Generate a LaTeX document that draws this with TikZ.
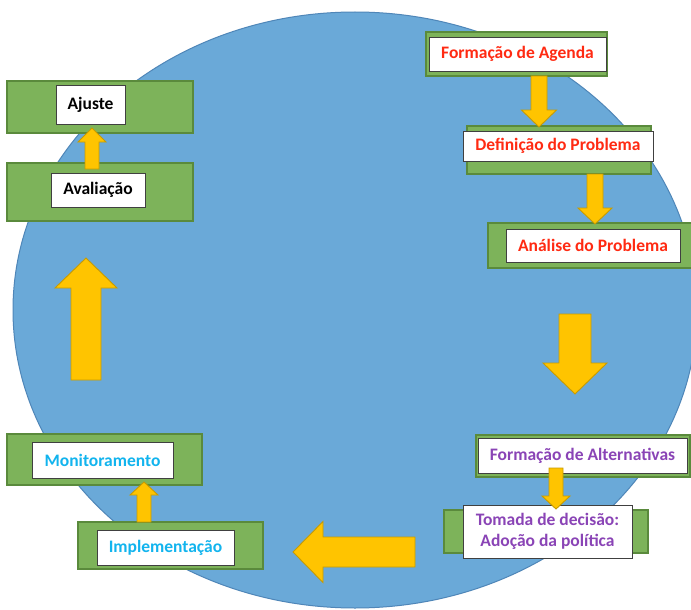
\documentclass[tikz,border=0pt]{standalone}
\usepackage{fontspec}
\setmainfont{Carlito}
\usetikzlibrary{calc}
\definecolor{ciclo}{HTML}{6AA9D8}
\definecolor{ciclob}{HTML}{4F86B8}
\definecolor{verde}{HTML}{7DB35A}
\definecolor{verdeb}{HTML}{5A8A3C}
\definecolor{amarelo}{HTML}{FFC400}
\definecolor{amarelob}{HTML}{C89B00}
\definecolor{vermelho}{HTML}{FF2A12}
\definecolor{roxo}{HTML}{8A44B6}
\definecolor{ciano}{HTML}{12B4EE}
% vertical block arrow: x, tail, head base, tip, shaft half, head half
\newcommand{\varrow}[6]{%
  \draw[bloco] (#1-#5,#2) -- (#1+#5,#2) -- (#1+#5,#3) -- (#1+#6,#3) -- (#1,#4)
    -- (#1-#6,#3) -- (#1-#5,#3) -- cycle;}
% horizontal block arrow: y, tail, head base, tip, shaft half, head half
\newcommand{\harrow}[6]{%
  \draw[bloco] (#2,#1-#5) -- (#2,#1+#5) -- (#3,#1+#5) -- (#3,#1+#6) -- (#4,#1)
    -- (#3,#1-#6) -- (#3,#1-#5) -- cycle;}
\tikzset{
  fundo/.style={draw=verdeb, fill=verde, line width=1.2pt, inner sep=0pt},
  etapa/.style={draw=black!75, fill=white, line width=0.8pt, inner sep=0pt,
    font=\fontsize{17.5}{21}\selectfont\bfseries, align=center},
  bloco/.style={draw=amarelob, fill=amarelo, line width=0.9pt, line join=miter}
}
\begin{document}
\begin{tikzpicture}[x=1pt,y=-1pt]
\clip (0,0) rectangle (691,610);
\fill[white] (0,0) rectangle (691,610);
\draw[ciclob, fill=ciclo, line width=1pt] (355,310) ellipse [x radius=342, y radius=298];
% fundos verdes
\node[fundo, minimum width=181, minimum height=44] (agendaG) at (516.5,54) {};
\node[fundo, minimum width=184, minimum height=48] (defG) at (559,150) {};
\node[fundo, minimum width=206, minimum height=45] (analiseG) at (591,245.5) {};
\node[fundo, minimum width=214, minimum height=42] (altG) at (583,456) {};
\node[fundo, minimum width=204, minimum height=43] (decG) at (546,531.5) {};
\node[fundo, minimum width=185, minimum height=47] (implG) at (170.5,545.5) {};
\node[fundo, minimum width=195, minimum height=51] (monG) at (104.5,459.5) {};
\node[fundo, minimum width=186, minimum height=58] (avalG) at (100,192) {};
\node[fundo, minimum width=186, minimum height=52] (ajusteG) at (100,107) {};
% caixas brancas
\node[etapa, text=vermelho, minimum width=177, minimum height=34] (agenda) at (517.5,54) {Formação de Agenda};
\node[etapa, text=vermelho, minimum width=190, minimum height=30] (def) at (558,146) {Definição do Problema};
\node[etapa, text=vermelho, minimum width=174, minimum height=33] (analise) at (593,245.5) {Análise do Problema};
\node[etapa, text=roxo, minimum width=209, minimum height=35] (alt) at (582.5,455.5) {Formação de Alternativas};
\node[etapa, text=roxo, minimum width=169, minimum height=53] (dec) at (547.5,531.5) {Tomada de decisão:\\Adoção da política};
\node[etapa, text=ciano, minimum width=137, minimum height=35] (impl) at (165.5,547.5) {Implementação};
\node[etapa, text=ciano, minimum width=141, minimum height=36] (mon) at (102.5,460) {Monitoramento};
\node[etapa, minimum width=94, minimum height=34] (aval) at (98,190) {Avaliação};
\node[etapa, minimum width=69, minimum height=39] (ajuste) at (90.5,104.5) {Ajuste};
% setas
\varrow{539}{76}{110}{127}{8}{17.5}
\varrow{595}{174}{208}{224}{8}{17}
\varrow{575}{314}{363}{394}{16}{32}
\varrow{556}{468}{496}{509}{7}{14}
\harrow{552}{415}{323}{293}{15}{30.5}
\varrow{144}{522}{495}{482}{7}{14}
\varrow{86}{380}{288}{258}{15}{31}
\varrow{92}{169}{142}{128}{7}{14}
\end{tikzpicture}
\end{document}
